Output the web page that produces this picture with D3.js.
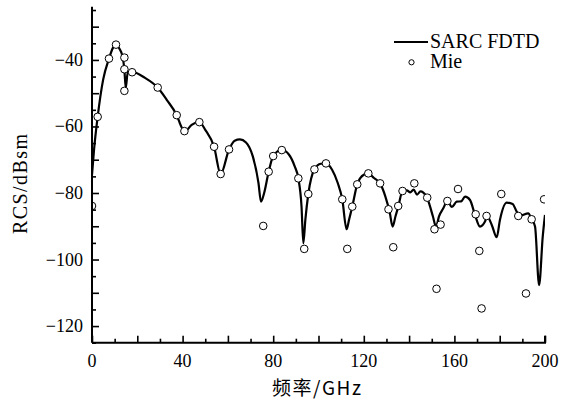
<!DOCTYPE html>
<html><head><meta charset="utf-8">
<script src="https://cdn.jsdelivr.net/npm/d3@7"></script>
<style>
body{margin:0;background:#fff;}
svg{display:block;}
text{font-family:"Liberation Serif","Times New Roman",serif;fill:#000;}
</style></head>
<body>
<script>
// FDTD curve (frequency GHz, RCS dBsm)
const fdtdFreq = [0,0.9,2.5,4.9,7.5,9.3,10.6,12,13.5,14.3,14.9,15.8,17.7,23.4,29,33,37.4,39.8,41.5,44,47.4,50,53.9,56.8,60.5,63,65.3,68,71,73.5,74.6,76,78,80,83.7,87,89.5,91.1,92.5,93.3,94.2,95.5,98.2,101,103.3,106,108.5,110.5,112.4,113.5,114.9,117.1,120,122,124.5,127.2,129.5,131.5,132.7,134,135.3,137.1,139,140.5,142,143.5,145,147.7,149,150.5,151.9,153.2,155.1,156.9,158.9,161,163,164.7,166.9,169.1,171.3,173.5,174.3,176.5,178.7,180.1,183.1,185.7,187.5,189,192.6,194.1,195.6,197.4,199,200];
const fdtdRCS  = [-74.6,-67,-57.1,-46,-39.6,-36.3,-35.5,-36.5,-39,-43,-48.4,-43.6,-43.6,-45.4,-48.3,-52,-56.6,-60.5,-61.2,-59.5,-58.7,-61,-66.1,-74.3,-66.9,-64.3,-63.9,-64.8,-69,-77,-82.6,-80,-73.6,-68.9,-67,-68.5,-72,-75.6,-84,-95.1,-88,-80.3,-72.9,-71.2,-71.1,-73,-77,-81.9,-90.9,-88,-84.1,-77.4,-74.5,-74.1,-75.5,-77.1,-81,-86,-90.1,-87,-83.9,-79.4,-79.2,-79.8,-79,-80.5,-79.5,-81.1,-83.5,-87,-90.1,-87,-84.6,-82.4,-84.2,-82.6,-82.5,-81.1,-82.1,-86.6,-90.1,-88.6,-86.9,-89.6,-93.3,-88.1,-82.9,-83.3,-85.6,-86.8,-86.1,-87.9,-90.1,-107.7,-93.1,-86.6];
// Mie reference points
const mieFreq = [0,2.5,7.5,10.6,14.3,14.3,14.3,17.7,29,37.4,40.8,47.4,53.9,56.8,60.5,75.6,78,80,83.8,91.1,93.7,95.5,98.2,103.3,110.5,112.7,114.9,117.1,122,127.2,130.9,133,135.2,137.1,142.3,148,151.2,152.1,153.9,156.9,161.6,169.4,171,172,174.2,180.7,188.2,191.6,194.1,199.6];
const mieRCS  = [-83.9,-57.1,-39.6,-35.4,-39.3,-42.8,-49.3,-43.7,-48.3,-56.6,-61.4,-58.7,-66.1,-74.3,-66.9,-89.9,-73.6,-68.9,-67.1,-75.6,-96.8,-80.3,-72.9,-71.1,-81.9,-96.8,-84.1,-77.4,-74.1,-77.1,-84.9,-96.3,-83.9,-79.4,-77.1,-81.4,-90.9,-108.8,-89.5,-82.4,-78.8,-86.4,-97.4,-114.7,-86.9,-80.3,-86.9,-110.2,-87.9,-81.9];
const xTickLabels = [0,40,80,120,160,200];
const yTickLabels = [-40,-60,-80,-100,-120];
const seriesNames = ["SARC FDTD","Mie"];
const xTitle = "频率/GHz";
const yTitle = "RCS/dBsm";

const W = 574, H = 404;
const svg = d3.select("body").append("svg").attr("width",W).attr("height",H);
const x = d3.scaleLinear().domain([0,200]).range([92,545]);
const y = d3.scaleLinear().domain([-125,-24]).range([342.7,6.7]);

svg.append("defs").append("clipPath").attr("id","clip")
  .append("rect").attr("x",92).attr("y",6.7).attr("width",453).attr("height",336);

const g = svg.append("g").attr("clip-path","url(#clip)");
const pts = fdtdFreq.map((f,i)=>[f,fdtdRCS[i]]);
const line = d3.line().x(d=>x(d[0])).y(d=>y(d[1])).curve(d3.curveMonotoneX);
g.append("path").datum(pts).attr("d",line).attr("fill","none").attr("stroke","#000").attr("stroke-width",2.2).attr("stroke-linejoin","round");

g.selectAll("circle.mie").data(mieFreq.map((f,i)=>[f,mieRCS[i]])).enter().append("circle")
  .attr("class","mie").attr("cx",d=>x(d[0])).attr("cy",d=>y(d[1])).attr("r",3.8)
  .attr("fill","#fff").attr("stroke","#000").attr("stroke-width",1);

// axes (ticks inward)
const xAxisG = svg.append("g").attr("transform",`translate(0,${y(-125)})`);
xAxisG.call(d3.axisTop(x).tickValues(d3.range(0,201,20)).tickSize(7).tickFormat(""));
xAxisG.append("g").call(d3.axisTop(x).tickValues(d3.range(10,200,20)).tickSize(4).tickFormat(""));
xAxisG.selectAll(".tick line").attr("stroke-width",1.6);
xAxisG.selectAll("g g path.domain").remove();
xAxisG.selectAll("path.domain").attr("d",`M${x(0)},0H${x(200)}V-7`).attr("stroke-width",2);

const yAxisG = svg.append("g").attr("transform",`translate(${x(0)},0)`);
yAxisG.call(d3.axisRight(y).tickValues(d3.range(-120,-24,10)).tickSize(7).tickFormat(""));
yAxisG.append("g").call(d3.axisRight(y).tickValues(d3.range(-125,-24,10)).tickSize(4).tickFormat(""));
yAxisG.selectAll(".tick line").attr("stroke-width",1.6);
yAxisG.selectAll("g g path.domain").remove();
yAxisG.selectAll("path.domain").attr("d",`M0,${y(-24)}V${y(-125)}`).attr("stroke-width",2);

svg.selectAll("text.xl").data(xTickLabels).enter().append("text").attr("class","xl")
  .attr("x",d=>x(d)).attr("y",367).attr("text-anchor","middle").attr("font-size",18).text(d=>d);
svg.selectAll("text.yl").data(yTickLabels).enter().append("text").attr("class","yl")
  .attr("x",83).attr("y",d=>y(d)+6).attr("text-anchor","end").attr("font-size",18).text(d=>d<0?"\u2212"+Math.abs(d):d);

svg.append("text").attr("x",316.5).attr("y",395).attr("text-anchor","middle").attr("font-size",19)
  .attr("textLength",89).attr("lengthAdjust","spacing")
  .style("font-family","'Noto Sans CJK SC','Liberation Serif',serif").text(xTitle);
svg.append("text").attr("transform",`translate(27,184) rotate(-90)`).attr("text-anchor","middle").attr("font-size",20)
  .attr("textLength",100).attr("lengthAdjust","spacing").text(yTitle);

// legend
svg.append("line").attr("x1",394).attr("x2",428).attr("y1",42).attr("y2",42).attr("stroke","#000").attr("stroke-width",2);
svg.append("text").attr("x",430).attr("y",48).attr("font-size",20).text(seriesNames[0]);
svg.append("circle").attr("cx",411.5).attr("cy",62.3).attr("r",2.6).attr("fill","#fff").attr("stroke","#000").attr("stroke-width",1);
svg.append("text").attr("x",430).attr("y",68).attr("font-size",20).text(seriesNames[1]);
</script>
</body></html>
